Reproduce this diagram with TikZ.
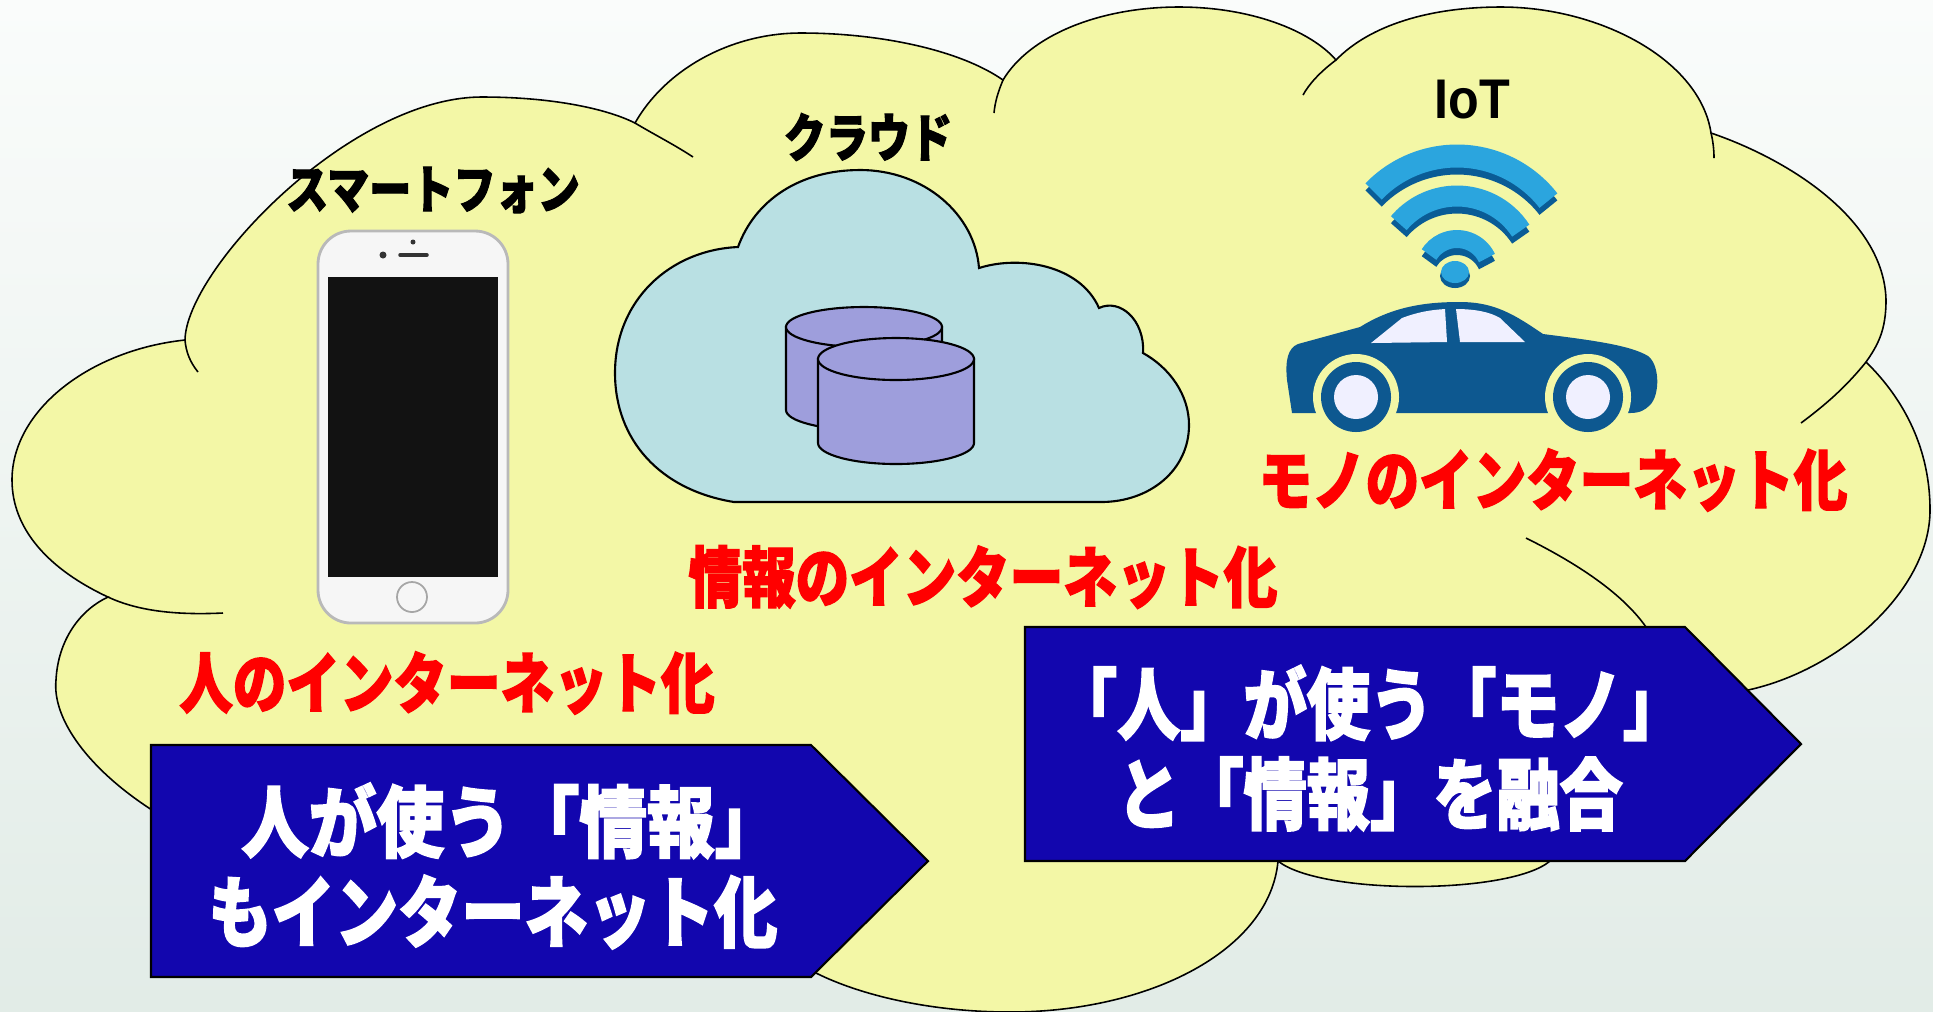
\documentclass[tikz,border=0pt]{standalone}
\usepackage{fontspec}
\newfontfamily\jpfont{Noto Sans CJK JP}[FakeStretch=0.81,BoldFeatures={FakeBold=2}]
\newfontfamily\latinfont{Liberation Sans}[FakeStretch=0.9]

\definecolor{bgtop}{RGB}{250,252,251}
\definecolor{bgbottom}{RGB}{226,236,231}
\definecolor{cloudyellow}{RGB}{243,247,166}
\definecolor{netblue}{RGB}{185,224,227}
\definecolor{dbpurple}{RGB}{158,158,220}
\definecolor{bannerblue}{RGB}{18,6,174}
\definecolor{wifilight}{RGB}{43,165,222}
\definecolor{wifidark}{RGB}{10,92,150}
\definecolor{carblue}{RGB}{13,88,144}
\definecolor{phonebody}{RGB}{246,246,246}
\definecolor{phoneedge}{RGB}{185,185,185}

\tikzset{
  bigcloud/.style={fill=cloudyellow,draw=black,line width=0.45pt},
  cloudline/.style={draw=black,line width=0.45pt},
  netcloud/.style={fill=netblue,draw=black,line width=0.6pt},
  dbstack/.style={fill=dbpurple,draw=black,line width=0.6pt},
  banner/.style={fill=bannerblue,draw=black,line width=0.6pt},
  bannertext/.style={text=white,align=center,inner sep=0pt,
    font=\jpfont\bfseries\fontsize{22.2pt}{25.6pt}\selectfont},
  redlabel/.style={text=red,inner sep=0pt,
    font=\jpfont\bfseries\fontsize{18.8pt}{22pt}\selectfont},
  blacklabel/.style={text=black,inner sep=0pt,
    font=\jpfont\bfseries\fontsize{14.8pt}{18pt}\selectfont}
}

\begin{document}
\begin{tikzpicture}[x=0.1mm,y=0.1mm,yscale=-1]
\useasboundingbox (0,0) rectangle (1933,1011);

%Background
\shade[top color=bgtop,bottom color=bgbottom] (0,0) rectangle (1933,1011);

%Shape: Big Cloud
\filldraw[bigcloud] (185,340) .. controls (186,270) and (350,97) .. (482,97)
  .. controls (550,97) and (605,108) .. (635,123)
  .. controls (665,70) and (730,33) .. (801,33)
  .. controls (880,33) and (960,50) .. (1003,80)
  .. controls (1030,35) and (1100,7) .. (1179,7)
  .. controls (1250,7) and (1310,30) .. (1336,60)
  .. controls (1370,25) and (1430,7) .. (1501,7)
  .. controls (1600,7) and (1700,60) .. (1711,133)
  .. controls (1790,160) and (1884,220) .. (1886,300)
  .. controls (1886,330) and (1878,345) .. (1866,362)
  .. controls (1905,400) and (1930,450) .. (1930,510)
  .. controls (1930,590) and (1840,670) .. (1748,690)
  -- (1550,861)
  .. controls (1510,895) and (1320,895) .. (1278,861)
  .. controls (1270,950) and (1150,1012) .. (1010,1012)
  .. controls (930,1012) and (860,995) .. (816,973)
  -- (600,900) -- (152,810)
  .. controls (90,770) and (52,720) .. (56,680)
  .. controls (58,640) and (80,610) .. (108,597)
  .. controls (50,570) and (12,530) .. (12,480)
  .. controls (12,410) and (90,350) .. (185,340) -- cycle;
%Curve Lines (inner arcs of the cloud)
\draw[cloudline] (185,340) .. controls (186,352) and (190,362) .. (198,372);
\draw[cloudline] (108,597) .. controls (140,612) and (180,615) .. (223,613);
\draw[cloudline] (635,123) .. controls (655,135) and (675,145) .. (693,157);
\draw[cloudline] (1003,80) .. controls (998,92) and (995,102) .. (994,113);
\draw[cloudline] (1336,60) .. controls (1320,72) and (1309,84) .. (1303,95);
\draw[cloudline] (1711,133) .. controls (1713,141) and (1714,150) .. (1714,158);
\draw[cloudline] (1866,362) .. controls (1845,388) and (1825,405) .. (1801,423);
\draw[cloudline] (1526,538) .. controls (1570,560) and (1620,590) .. (1646,627);

%Shape: Smartphone
\filldraw[fill=phonebody,draw=phoneedge,line width=0.8pt,rounded corners=3.3mm] (318,231) rectangle (508,623);
\fill[black!93] (328,277) rectangle (498,577);
\draw[gray!40!black,line width=0.35mm,line cap=round] (400,255) -- (427,255);
\fill[gray!40!black] (413,242) circle[radius=2.5];
\fill[gray!40!black] (383,255) circle[radius=3.5];
\draw[gray!70,line width=0.5pt] (412,597) circle[radius=15];

%Shape: Cloud with databases
\filldraw[netcloud] (734,502) .. controls (660,490) and (615,440) .. (615,373)
  .. controls (615,300) and (670,250) .. (738,247)
  .. controls (755,200) and (800,170) .. (860,170)
  .. controls (925,170) and (975,215) .. (979,268)
  .. controls (1020,255) and (1080,265) .. (1099,308)
  .. controls (1120,298) and (1145,320) .. (1143,353)
  .. controls (1170,368) and (1189,395) .. (1189,425)
  .. controls (1189,470) and (1150,502) .. (1101,502)
  -- cycle;
\filldraw[dbstack] (786,327) -- (786,410) arc[start angle=180,end angle=0,x radius=78,y radius=20] -- (942,327) -- cycle;
\filldraw[dbstack] (864,327) ellipse[x radius=78,y radius=20];
\filldraw[dbstack] (818,359) -- (818,443) arc[start angle=180,end angle=0,x radius=78,y radius=21] -- (974,359) -- cycle;
\filldraw[dbstack] (896,359) ellipse[x radius=78,y radius=21];

%Shape: WiFi signal
\begin{scope}[shift={(1457,272)},yscale=-1]
  \foreach \r/\w/\a/\b in {33/1.8mm/25/148,76/2.1mm/33/140,116/2.3mm/38/136}{
    \draw[wifidark,line width=\w] (0,-7) ++(\a:\r) arc[start angle=\a,end angle=\b,radius=\r];
    \draw[wifilight,line width=\w] (\a:\r) arc[start angle=\a,end angle=\b,radius=\r];
  }
  \fill[wifidark] (-2,-4) ellipse[x radius=15,y radius=12];
  \fill[wifilight] (-2,0) ellipse[x radius=14,y radius=11];
\end{scope}

%Shape: Car
\fill[carblue] (1292,413) -- (1287,380) .. controls (1285,360) and (1288,348) .. (1298,344)
  -- (1360,327) .. controls (1395,305) and (1430,302) .. (1460,302)
  .. controls (1495,302) and (1515,315) .. (1543,334)
  .. controls (1590,340) and (1630,345) .. (1648,356)
  .. controls (1660,365) and (1660,395) .. (1650,405)
  .. controls (1645,410) and (1640,413) .. (1630,413) -- cycle;
\fill[white!94!blue] (1371,343) -- (1402,318) .. controls (1418,312) and (1430,310) .. (1445,309) -- (1447,342) -- cycle;
\fill[white!94!blue] (1456,309) .. controls (1475,309) and (1490,312) .. (1500,318) -- (1525,342) -- (1460,342) -- cycle;
\foreach \cx in {1356,1588}{
  \fill[cloudyellow] (\cx,397) circle[radius=43];
  \fill[carblue] (\cx,397) circle[radius=35];
  \fill[white!94!blue] (\cx,397) circle[radius=22];
}

%Shape: Banners
\filldraw[banner] (151,745) -- (811,745) -- (928,861) -- (811,977) -- (151,977) -- cycle;
\filldraw[banner] (1025,627) -- (1685,627) -- (1801,744) -- (1685,861) -- (1025,861) -- cycle;

% Text Node
\node[blacklabel] (phonelabel) at (433,190) {スマートフォン};
% Text Node
\node[blacklabel] (cloudlabel) at (868,137) {クラウド};
% Text Node
\node[blacklabel,font=\latinfont\bfseries\fontsize{15.9pt}{18pt}\selectfont] (iotlabel) at (1472,100) {IoT};
% Text Node
\node[redlabel] (peoplenet) at (447,683) {人のインターネット化};
% Text Node
\node[redlabel] (infonet) at (983,577) {情報のインターネット化};
% Text Node
\node[redlabel] (thingsnet) at (1553,480) {モノのインターネット化};
% Text Node
\node[bannertext] (lefttext) at (493,866) {\scalebox{1.07}[1]{\hspace{0.45em}人が使う「情報」}\\もインターネット化};
% Text Node
\node[bannertext] (righttext) at (1370,748) {「人」が使う「モノ」\\と「情報」を融合};

\end{tikzpicture}
\end{document}
